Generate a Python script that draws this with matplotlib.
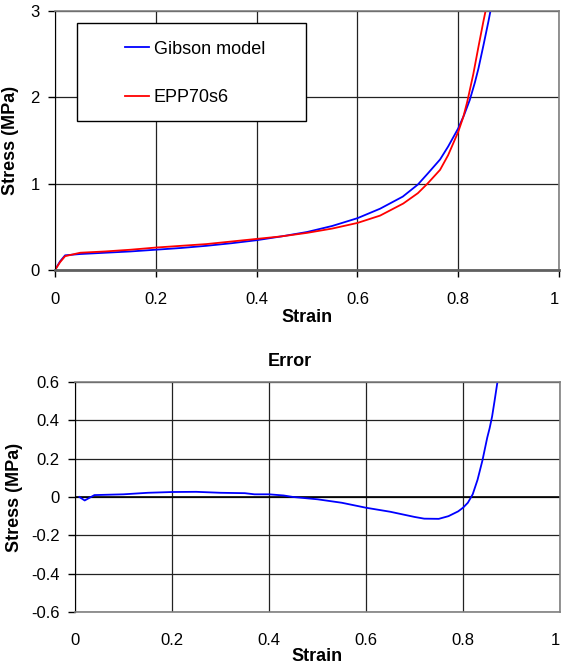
import matplotlib
matplotlib.use("Agg")
import matplotlib.pyplot as plt
from matplotlib.patches import Rectangle

plt.rcParams['font.family'] = ['Liberation Sans', 'DejaVu Sans']
plt.rcParams['axes.unicode_minus'] = False

# stress-strain data
gibson_strain = [0, 0.01, 0.02, 0.05, 0.1, 0.15, 0.2, 0.25, 0.3, 0.35, 0.4, 0.45,
                 0.5, 0.55, 0.6, 0.645, 0.69, 0.72, 0.74, 0.764, 0.78, 0.8,
                 0.812, 0.823, 0.833, 0.84, 0.85, 0.86, 0.865, 0.87]
gibson_stress = [0, 0.1, 0.17, 0.185, 0.2, 0.215, 0.235, 0.255, 0.28, 0.31, 0.345,
                 0.39, 0.44, 0.51, 0.60, 0.71, 0.85, 0.99, 1.12, 1.28, 1.43, 1.64,
                 1.8, 1.97, 2.17, 2.33, 2.6, 2.88, 3.03, 3.2]

epp_strain = [0, 0.01, 0.02, 0.05, 0.1, 0.15, 0.2, 0.25, 0.3, 0.35, 0.4, 0.45,
              0.5, 0.55, 0.6, 0.645, 0.691, 0.72, 0.739, 0.764, 0.78, 0.8,
              0.81, 0.818, 0.83, 0.84, 0.85, 0.855, 0.86]
epp_stress = [0, 0.09, 0.16, 0.2, 0.215, 0.235, 0.26, 0.28, 0.30, 0.33, 0.36,
              0.39, 0.43, 0.48, 0.545, 0.63, 0.77, 0.89, 1.0, 1.16, 1.33, 1.60,
              1.77, 1.95, 2.27, 2.58, 2.88, 3.02, 3.2]

err_strain = [0.009, 0.02, 0.04, 0.1, 0.15, 0.2, 0.25, 0.3, 0.35, 0.37, 0.4, 0.43,
              0.45, 0.5, 0.55, 0.6, 0.65, 0.7, 0.72, 0.75, 0.77, 0.79, 0.8,
              0.81, 0.82, 0.83, 0.84, 0.845, 0.85, 0.855, 0.86, 0.865, 0.871, 0.875]
err_stress = [0, -0.018, 0.01, 0.014, 0.022, 0.026, 0.027, 0.022, 0.02, 0.014,
              0.014, 0.008, 0, -0.012, -0.03, -0.056, -0.077, -0.104, -0.113,
              -0.114, -0.1, -0.075, -0.056, -0.03, 0.014, 0.09, 0.19, 0.25, 0.31,
              0.36, 0.42, 0.5, 0.6, 0.66]

x_ticks = [0, 0.2, 0.4, 0.6, 0.8, 1]
x_labels = ['0', '0.2', '0.4', '0.6', '0.8', '1']

W, H = 563, 668
fig = plt.figure(figsize=(W / 100, H / 100), dpi=100)

def px_axes(l, t, r, b):
    return fig.add_axes([l / W, 1 - b / H, (r - l) / W, (b - t) / H])

def style(ax):
    for s in ['top', 'right', 'bottom']:
        ax.spines[s].set_color('#808080')
        ax.spines[s].set_linewidth(1.2)
    ax.spines['left'].set_color('black')
    ax.grid(True, color='#222222', linewidth=0.9)
    ax.set_axisbelow(True)
    ax.tick_params(labelsize=12, direction='out', length=5, width=1, color='black')
    ax.set_xticks(x_ticks)
    ax.set_xticklabels(x_labels)
    # last label sits on the figure edge, keep it inside
    ax.get_xticklabels()[-1].set_ha('right')
    ax.get_xticklabels()[-1].set_x(1.0)

# top chart
ax1 = px_axes(55, 11, 559, 270)
ax1.plot(gibson_strain, gibson_stress, color='#0000ff', lw=1.3, label='Gibson model')
ax1.plot(epp_strain, epp_stress, color='#ff0000', lw=1.3, label='EPP70s6')
ax1.set_xlim(0, 1)
ax1.set_ylim(0, 3)
ax1.set_yticks([0, 1, 2, 3])
style(ax1)
ax1.spines['bottom'].set_color('#606060')
ax1.spines['bottom'].set_linewidth(2)
ax1.tick_params(axis='x', pad=11)
ax1.tick_params(axis='y', pad=6)
ax1.set_xlabel('Strain', fontsize=13, fontweight='bold', labelpad=1)
ax1.set_ylabel('Stress (MPa)', fontsize=13, fontweight='bold', labelpad=8)

leg = ax1.legend(loc='center left', bbox_to_anchor=(125 / W, 1 - 73.5 / H),
                 bbox_transform=fig.transFigure, frameon=False, fontsize=13,
                 borderpad=0, borderaxespad=0, labelspacing=1.75,
                 handlelength=1.35, handletextpad=0.25)
fig.patches.append(Rectangle((77 / W, 1 - 121 / H), 229 / W, 98 / H,
                             transform=fig.transFigure, fill=True,
                             facecolor='white', edgecolor='black', lw=1,
                             zorder=2))
leg.set_zorder(5)
leg.remove()
fig.legends.append(leg)
leg.set_figure(fig)

# bottom chart
ax2 = px_axes(75, 382, 560, 612)
ax2.plot(err_strain, err_stress, color='#0000ff', lw=1.3)
ax2.set_xlim(0, 1)
ax2.set_ylim(-0.6, 0.6)
ax2.set_yticks([-0.6, -0.4, -0.2, 0, 0.2, 0.4, 0.6])
ax2.set_yticklabels(['-0.6', '-0.4', '-0.2', '0', '0.2', '0.4', '0.6'])
style(ax2)
ax2.axhline(0, color='black', lw=1.2, zorder=1)
ax2.tick_params(axis='x', length=0, pad=15)
ax2.tick_params(axis='y', pad=6)
ax2.set_xlabel('Strain', fontsize=13, fontweight='bold', labelpad=0)
ax2.set_ylabel('Stress (MPa)', fontsize=13, fontweight='bold', labelpad=6)
fig.text(290 / W, 1 - 361 / H, 'Error', fontsize=13, fontweight='bold',
         ha='center', va='center')

fig.savefig('out.png', dpi=100)
